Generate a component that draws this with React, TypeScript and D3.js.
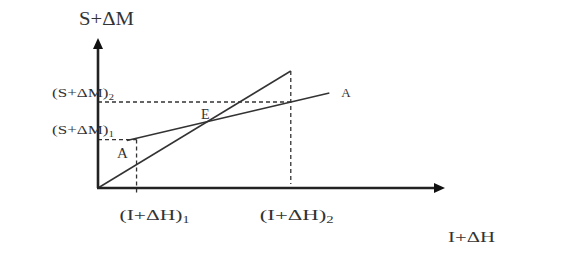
import React, { useRef, useEffect } from "react";
import * as d3 from "d3";

// Points on the x axis (I+ΔH) and y axis (S+ΔM), in diagram units
const xMarks = [1.0, 5.0]; // (I+ΔH)1, (I+ΔH)2
const yMarks = [2.42, 4.3]; // (S+ΔM)1, (S+ΔM)2
const steepLine = [
  { x: 0, y: 0 },
  { x: 5.0, y: 5.85 },
];
const lineA = [
  { x: 0.75, y: 2.38 },
  { x: 6.0, y: 4.75 },
];
const xLabels = ["(I+ΔH)", "(I+ΔH)"];
const yLabels = ["(S+ΔM)", "(S+ΔM)"];
const subs = ["1", "2"];

const App = () => {
  const svgRef = useRef<SVGSVGElement>(null);

  useEffect(() => {
    const width = 561;
    const height = 254;
    const svg = d3.select(svgRef.current).attr("width", width).attr("height", height);
    svg.selectAll("*").remove();

    const font = "'Liberation Serif', 'Times New Roman', serif";
    const ink = "#333";

    const x = d3.scaleLinear().domain([0, 9]).range([98, 445]);
    const y = d3.scaleLinear().domain([0, 7.5]).range([188, 38]);

    const line = d3
      .line<{ x: number; y: number }>()
      .x((d) => x(d.x))
      .y((d) => y(d.y));

    // dashed guides
    const guides = [
      [{ x: 0, y: yMarks[0] }, { x: xMarks[0], y: yMarks[0] }],
      [{ x: xMarks[0], y: yMarks[0] }, { x: xMarks[0], y: -0.35 }],
      [{ x: 0, y: yMarks[1] }, { x: xMarks[1], y: yMarks[1] }],
      [{ x: xMarks[1], y: steepLine[1].y }, { x: xMarks[1], y: 0.2 }],
    ];
    svg
      .selectAll(".guide")
      .data(guides)
      .enter()
      .append("path")
      .attr("d", (d) => line(d))
      .attr("fill", "none")
      .attr("stroke", ink)
      .attr("stroke-width", 1.3)
      .attr("stroke-dasharray", "4,3");

    // main lines
    [steepLine, lineA].forEach((pts) => {
      svg
        .append("path")
        .attr("d", line(pts))
        .attr("fill", "none")
        .attr("stroke", ink)
        .attr("stroke-width", 1.5);
    });

    // axes
    const x0 = x(0);
    const y0 = y(0);
    svg.append("line").attr("x1", x0).attr("y1", y0).attr("x2", x0).attr("y2", y(7.5) + 8)
      .attr("stroke", "#222").attr("stroke-width", 2.6);
    svg.append("line").attr("x1", x0 - 1).attr("y1", y0).attr("x2", x(9) - 8).attr("y2", y0)
      .attr("stroke", "#222").attr("stroke-width", 2.6);
    const yt = y(7.5);
    svg.append("path")
      .attr("d", `M${x0},${yt} L${x0 - 5},${yt + 11} L${x0 + 5},${yt + 11} Z`)
      .attr("fill", "#111");
    const xt = x(9);
    svg.append("path")
      .attr("d", `M${xt},${y0} L${xt - 11},${y0 - 5} L${xt - 11},${y0 + 5} Z`)
      .attr("fill", "#111");

    const addText = (
      tx: number, ty: number, size: number, main: string, len?: number, sub?: string
    ) => {
      const t = svg.append("text")
        .attr("x", tx).attr("y", ty)
        .attr("font-family", font).attr("font-size", size)
        .attr("fill", ink)
        .text(main);
      if (sub) {
        t.append("tspan").attr("font-size", size * 0.65).attr("dy", 3).text(sub);
      }
      if (len) t.attr("textLength", len).attr("lengthAdjust", "spacingAndGlyphs");
      return t;
    };

    // axis titles
    addText(79, 25, 18, "S+ΔM", 55);
    addText(448, 242, 15, "I+ΔH", 47);

    // y marks
    yLabels.forEach((lab, i) => {
      addText(52, i === 0 ? 134 : 97, 12, lab, 62, subs[i]);
    });
    // x marks
    xLabels.forEach((lab, i) => {
      addText(x(xMarks[i]) - (i === 0 ? 17 : 31), 220, 15, lab, i === 0 ? 70 : 74, subs[i]);
    });

    // point labels
    addText(x(lineA[1].x) + 12, y(lineA[1].y) + 4, 13, "A");
    addText(117, 158, 15, "A");
    addText(201, 119, 14, "E");
  }, []);

  return <svg ref={svgRef} style={{ display: "block", position: "absolute", left: 0, top: 0 }}></svg>;
};

export default App;
